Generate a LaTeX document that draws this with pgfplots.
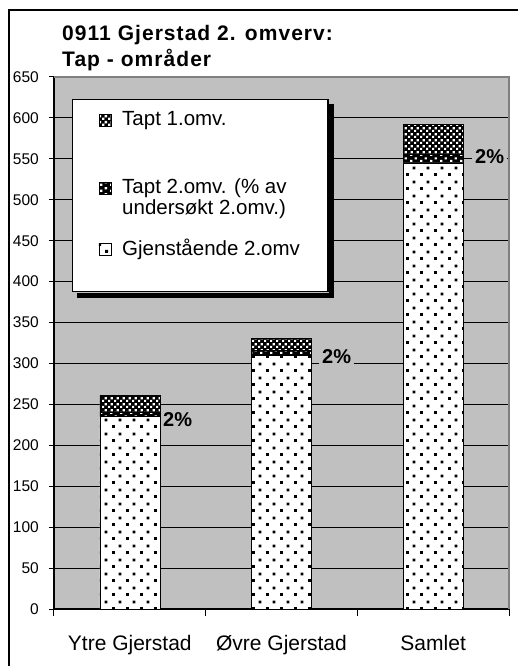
\documentclass[border=0pt]{standalone}
\usepackage{fontspec}
\setmainfont{Liberation Sans}
\usepackage{pgfplots}
\pgfplotsset{compat=1.18}
\usetikzlibrary{patterns,backgrounds}

\definecolor{plotgray}{RGB}{192,192,192}
\definecolor{edgegray}{RGB}{128,128,128}

% sparse staggered dots (Gjenstaaende)
\pgfdeclarepatternformonly{sparsedots}{\pgfpointorigin}{\pgfpoint{14pt}{14pt}}{\pgfpoint{14pt}{14pt}}{%
  \pgfpathrectangle{\pgfpoint{0pt}{0pt}}{\pgfpoint{3pt}{3pt}}%
  \pgfpathrectangle{\pgfpoint{7pt}{7pt}}{\pgfpoint{3pt}{3pt}}%
  \pgfusepath{fill}}
% white dots on black (Tapt 2)
\pgfdeclarepatternformonly{whitedots}{\pgfpointorigin}{\pgfpoint{10pt}{6pt}}{\pgfpoint{10pt}{6pt}}{%
  \pgfpathrectangle{\pgfpoint{0pt}{0pt}}{\pgfpoint{2.5pt}{2.5pt}}%
  \pgfpathrectangle{\pgfpoint{5pt}{3pt}}{\pgfpoint{2.5pt}{2.5pt}}%
  \pgfusepath{fill}}
% fine checks (Tapt 1)
\pgfdeclarepatternformonly{checks}{\pgfpointorigin}{\pgfpoint{6pt}{6pt}}{\pgfpoint{6pt}{6pt}}{%
  \pgfpathrectangle{\pgfpoint{0pt}{0pt}}{\pgfpoint{2.6pt}{2.6pt}}%
  \pgfpathrectangle{\pgfpoint{3pt}{3pt}}{\pgfpoint{2.6pt}{2.6pt}}%
  \pgfusepath{fill}}

\newcommand{\lent}[1]{\begin{tabular}[t]{@{}l@{}}#1\end{tabular}}

\begin{document}
\begin{tikzpicture}[x=1pt,y=1pt]
\begin{axis}[
  scale only axis, width=455pt, height=532pt,
  xmin=-0.5, xmax=2.5, ymin=0, ymax=650,
  clip=false,
  ybar stacked, bar width=0.3956,
  axis background/.style={fill=plotgray},
  axis lines*=left,
  axis line style={line width=1.2pt},
  ymajorgrids, grid style={black, line width=0.9pt},
  ytick={0,50,...,650},
  tick align=outside, major tick length=5pt,
  ytick style={black, line width=1pt},
  xtick={0,1,2},
  xticklabels={Ytre Gjerstad, Øvre Gjerstad, Samlet},
  major x tick style={draw=none},
  minor xtick={-0.5,0.5,1.5,2.5}, minor tick length=7pt,
  minor x tick style={black, line width=1pt},
  /pgf/number format/assume math mode=true,
  yticklabel style={font=\fontsize{15.5}{18}\selectfont, anchor=east, inner sep=0pt, xshift=-10pt},
  xticklabel style={font=\fontsize{21}{24}\selectfont, anchor=base, yshift=-36pt},
  reverse legend,
  legend style={
    name=legbox,
    at={(0.0396,0.9586)}, anchor=north west,
    draw=black, line width=1.2pt, fill=white,
    font=\fontsize{20.5}{20.5}\selectfont,
    inner xsep=26pt, inner ysep=10pt,
    row sep=14pt, column sep=9pt,
    nodes={inner sep=2pt, text depth=},
    cells={anchor=base west},
  },
  every axis plot post/.append style={
    legend image code/.code={\draw[##1] (0pt,0pt) rectangle (12pt,12pt);}},
]
\addplot[draw=black, line width=0.6pt, fill=white,
  postaction={pattern=sparsedots, pattern color=black}]
  coordinates {(0,235) (1,310) (2,545)};
\addlegendentry{\lent{Gjenstående 2.omv\rule[-24pt]{0pt}{0pt}}}
\addplot[draw=black, line width=0.6pt, fill=black,
  postaction={pattern=whitedots, pattern color=white}]
  coordinates {(0,5) (1,6) (2,11)};
\addlegendentry{\lent{Tapt 2.omv. (\% av\\undersøkt 2.omv.)}}
\addplot[draw=black, line width=0.6pt, fill=black,
  postaction={pattern=checks, pattern color=white}]
  coordinates {(0,21) (1,15) (2,36)};
\addlegendentry{\lent{Tapt 1.omv.\rule[-35pt]{0pt}{0pt}}}

\draw[edgegray, line width=1.2pt] (rel axis cs:0,1) -- (rel axis cs:1,1) -- (rel axis cs:1,0);
\coordinate (SW) at (rel axis cs:0,0);

\node[anchor=west, fill=plotgray, inner xsep=3pt, inner ysep=5pt, font=\fontsize{20}{22}\selectfont\bfseries] at (axis cs:0.199,231) {2\%};
\node[anchor=west, fill=plotgray, inner xsep=3pt, inner ysep=5pt, font=\fontsize{20}{22}\selectfont\bfseries] at (axis cs:1.247,309) {2\%};
\node[anchor=west, fill=plotgray, inner xsep=3pt, inner ysep=5pt, font=\fontsize{20}{22}\selectfont\bfseries] at (axis cs:2.256,553) {2\%};
\end{axis}

% legend shadow (outside the box)
\fill[black] ([shift={(0.6,-5)}]legbox.north east) rectangle ([shift={(5.6,-5.6)}]legbox.south east);
\fill[black] ([shift={(5,-0.6)}]legbox.south west) rectangle ([shift={(5.6,-5.6)}]legbox.south east);

\pgfresetboundingbox
\begin{scope}[shift={(SW)}]
  \useasboundingbox (-54,-57) rectangle (463,609);
  \begin{scope}[on background layer]
    \fill[white] (-54,-57) rectangle (463,609);
  \end{scope}
  \draw[line width=1.5pt] (-45,-70) -- (-45,599) -- (480,599);
  \node[anchor=base west, inner sep=0pt, font={\fontsize{21}{23}\selectfont\bfseries\addfontfeature{LetterSpace=5}}] at (8,568) {0911 Gjerstad 2. omverv:};
  \node[anchor=base west, inner sep=0pt, font={\fontsize{21}{23}\selectfont\bfseries\addfontfeature{LetterSpace=5}}] at (8,542) {Tap - områder};
\end{scope}
\end{tikzpicture}
\end{document}
